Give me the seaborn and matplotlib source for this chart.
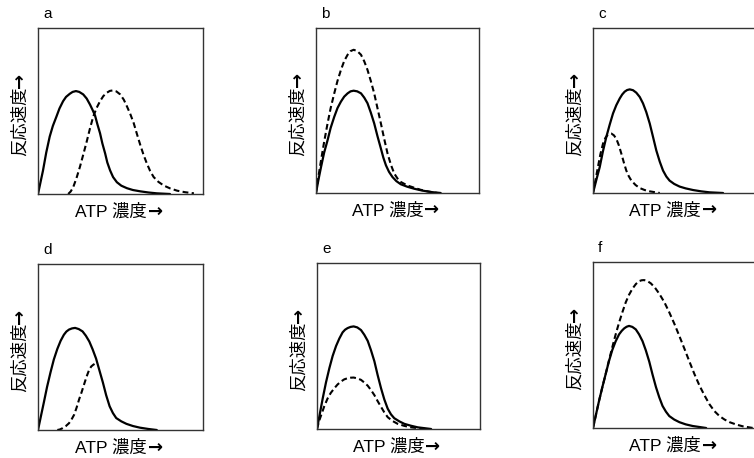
import matplotlib
matplotlib.use("Agg")
import matplotlib.pyplot as plt
import seaborn as sns
import pandas as pd

sns.set_theme(style="white")
plt.rcParams['font.family'] = ['Liberation Sans', 'Noto Sans CJK JP', 'DejaVu Sans']

# panel letters and axis labels
PANELS = ['a', 'b', 'c', 'd', 'e', 'f']
Y_TEXT = '反応速度'
X_TEXT = 'ATP 濃度'
ARROW = '→'

# curves (x, y in % of the panel box)
A_SOLID_X = [0, 1.5, 3, 5, 7.1, 9, 11.2, 13, 15.2, 17, 19.3, 21, 23, 25, 27.4, 29.5, 31.5, 33, 34.6, 36,
             37.6, 39, 40.7, 42, 43.7, 45.5, 47.8, 50.5, 53.9, 57.5, 62, 67, 72, 80]
A_SOLID_Y = [0, 7, 14, 25, 34.6, 41, 46.7, 51.5, 55.9, 58.5, 60.4, 61.5, 62, 61.5, 60, 57.5, 53.9, 50.8, 47.2, 42,
             36.6, 30.5, 24.4, 19, 14.2, 10.2, 7.1, 5, 3.5, 2.4, 1.6, 0.9, 0.4, 0]
A_DASH_X = [18.3, 19.8, 21.3, 23.3, 25.4, 27.5, 29.5, 31.5, 33.5, 35.5, 37.6, 39.6, 41.7, 43.5, 45.3, 47.5, 49.8,
            52, 53.9, 56, 58, 60, 62, 64, 66, 68, 70.1, 73, 76.2, 80, 84.3, 89, 94.5]
A_DASH_Y = [0, 1.5, 4, 9.5, 16.3, 24, 31.5, 39.5, 46.7, 51.8, 55.9, 59, 61, 62.1, 62.4, 61.8, 60,
            56.8, 52.8, 48, 42.7, 36, 29.5, 23.5, 18.3, 13.8, 10.2, 7.3, 5.1, 3.4, 2, 1.1, 0.4]

B_SOLID_X = [0, 1.5, 3.1, 5, 7.1, 9, 11.2, 13.2, 15.3, 17.3, 19.4, 21.2, 23.1, 25.3, 27.6, 29.6, 31.6, 33.6,
             35.7, 37.7, 39.8, 41.3, 42.9, 44.8, 46.9, 49.3, 52, 56, 60.2, 65, 70.4, 76.5]
B_SOLID_Y = [0, 8, 15.8, 24.5, 32, 39.5, 46.2, 51.5, 55.4, 58.4, 60.4, 61.6, 62, 61.6, 60.4, 57.8, 54.4, 48.8,
             42.2, 34.5, 27, 21.5, 16.8, 12.8, 9.7, 7.2, 5.3, 3.8, 2.6, 1.5, 0.6, 0]
B_DASH_X = [0, 1.5, 3.1, 5, 7.1, 9, 11.2, 13.2, 15.3, 17.3, 19.4, 21.2, 23.1, 25.3, 27.6, 29.6, 31.6, 33.6,
            35.7, 37.7, 39.8, 41.8, 43.9, 46, 48, 50, 52, 56, 60.2, 64, 68.4, 74.5]
B_DASH_Y = [0, 10, 19.9, 31, 42.2, 51.5, 60.4, 68, 74.6, 80, 83.8, 86, 86.8, 86, 83.8, 79.8, 74.6, 68,
            60.4, 51.5, 42.2, 33, 23.9, 17, 11.8, 8.8, 6.7, 4.6, 3.2, 2, 1, 0]

C_SOLID_X = [0, 2, 4.1, 6, 8.1, 10.2, 12.2, 14.2, 16.3, 17.8, 19.3, 20.8, 22.4, 24.4, 26.4, 28.5, 30.5, 32.5,
             34.6, 36.6, 38.6, 40.7, 42.7, 44.7, 46.7, 49.5, 52.8, 56.5, 61, 66, 71.1, 79.3]
C_SOLID_Y = [0, 7.8, 15.7, 25, 33.9, 41.5, 48.2, 53.2, 57.3, 59.7, 61.4, 62.4, 62.8, 62.3, 60.8, 58.2, 54.3, 49,
             42.1, 34, 25.8, 19, 13.6, 10, 7.5, 5.5, 3.9, 2.8, 1.8, 1, 0.4, 0]
C_DASH_X = [0, 1.5, 3, 4.5, 6.1, 7.6, 9.1, 10.2, 11.2, 12.7, 14.2, 15.8, 17.3, 18.8, 20.3, 21.8, 23.4,
            26, 28.5, 31.5, 34.6, 40.7]
C_DASH_Y = [0, 7.8, 15.7, 23.5, 29.9, 33.5, 35.4, 35.9, 36, 35, 32.9, 28.8, 23.8, 18.5, 13.6, 10.2, 7.5,
            4.8, 3, 1.8, 1, 0]

D_SOLID_X = [0, 1.7, 3.5, 5.5, 7.6, 9.6, 11.7, 13.7, 15.7, 17.2, 18.8, 20.6, 22.5, 24.7, 27, 29, 31.1, 33.1,
             35.2, 37.2, 39.3, 41.3, 43.4, 45.4, 47.4, 50.5, 53.6, 57.5, 61.8, 67, 72]
D_SOLID_Y = [0, 8, 16.4, 26, 34.8, 42.5, 48.8, 53.7, 57.4, 59.3, 60.5, 61.2, 61.5, 60.8, 59.4, 56.8, 53.3, 48.6,
             43, 36, 28.7, 21, 14.3, 10.2, 7.2, 5.2, 3.7, 2.4, 1.4, 0.6, 0]
D_DASH_X = [11.7, 13.2, 14.7, 16.8, 18.8, 20.3, 21.9, 23.4, 24.9, 26.5, 28, 29.5, 31.1, 32.3, 33.5, 34.6]
D_DASH_Y = [0, 0.3, 1, 2.3, 4.1, 6.3, 9.2, 13.5, 18.4, 23, 27.7, 32.3, 36.5, 38.3, 39.3, 40]

E_SOLID_X = [0, 1.7, 3.5, 5.5, 7.6, 9.6, 11.7, 13.7, 15.7, 17.2, 18.8, 20.6, 22.5, 24.7, 27, 29, 31.1, 33.1,
             35.2, 37.2, 39.3, 41.3, 43.4, 45.4, 47.4, 50.5, 53.6, 57.5, 61.8, 70]
E_SOLID_Y = [0, 9, 18.4, 28, 36.7, 44, 50, 54.5, 58.2, 59.8, 60.8, 61.5, 61.8, 61.2, 59.6, 56.8, 53.1, 47.5,
             40.8, 32.5, 24.5, 17.8, 12.2, 8.8, 6.5, 4.6, 3.1, 2, 1, 0]
E_DASH_X = [0, 1.2, 2.5, 4.5, 6.5, 8.5, 10.6, 12.6, 14.7, 16.7, 18.8, 20.6, 22.5, 24.7, 27, 29, 31.1, 33.1,
            35.2, 37.2, 39.3, 41.3, 43.4, 46.4, 49.5, 53.5, 57.7, 65.8]
E_DASH_Y = [0, 4.5, 8.2, 13.8, 18.4, 21.8, 24.5, 26.8, 28.6, 29.9, 30.6, 30.9, 31, 30.5, 29.6, 28, 26.1, 23.5,
            20.4, 16.8, 13.3, 10, 7.1, 4.8, 3.1, 1.9, 1, 0]

F_SOLID_X = [0, 1.8, 3.7, 5.7, 7.8, 9.8, 11.8, 13.8, 15.9, 17.5, 19, 20.5, 22, 24, 26.1, 28.1, 30.2, 32.2,
             34.3, 36.3, 38.4, 40.4, 42.4, 44.5, 46.5, 49.5, 52.7, 56.5, 60.8, 69]
F_SOLID_Y = [0, 8, 16.4, 24.6, 32.8, 40.5, 47.1, 52.2, 56.4, 58.5, 60, 61, 61.5, 60.9, 59.4, 56.4, 52.3, 46.8,
             40, 32.2, 24.6, 18.5, 13.3, 9.8, 7.2, 5.1, 3.5, 2.2, 1.2, 0]
F_DASH_X = [0, 1.8, 3.7, 5.7, 7.8, 9.8, 11.8, 13.8, 15.9, 18, 20, 22, 24.1, 26.2, 28.2, 29.7, 31.2, 33.2,
            35.3, 37.8, 40.4, 43.5, 46.5, 49.6, 52.7, 55.8, 58.8, 61.8, 64.9, 68, 71, 74, 77.1, 80.2,
            83.3, 87.3, 91.4, 97.6]
F_DASH_Y = [0, 8, 16.4, 24.6, 32.8, 41, 48.8, 56.3, 63.5, 70, 75.8, 80.3, 84, 86.8, 88.5, 89, 89.1, 88.5,
            87.1, 84.5, 80.9, 75.8, 69.7, 62.8, 55.3, 47.6, 40, 32.6, 25.6, 19.6, 14.3, 10.2, 7.2, 5.1,
            3.5, 2.1, 1, 0]

CURVES = {
    'a': (A_SOLID_X, A_SOLID_Y, A_DASH_X, A_DASH_Y),
    'b': (B_SOLID_X, B_SOLID_Y, B_DASH_X, B_DASH_Y),
    'c': (C_SOLID_X, C_SOLID_Y, C_DASH_X, C_DASH_Y),
    'd': (D_SOLID_X, D_SOLID_Y, D_DASH_X, D_DASH_Y),
    'e': (E_SOLID_X, E_SOLID_Y, E_DASH_X, E_DASH_Y),
    'f': (F_SOLID_X, F_SOLID_Y, F_DASH_X, F_DASH_Y),
}

W, H = 754, 458
# panel boxes in pixels: left, top, right, bottom
BOXES = {
    'a': (38, 28, 203, 194),
    'b': (316, 28, 479, 193),
    'c': (593, 28, 757, 193),
    'd': (38, 264, 203, 430),
    'e': (317, 263, 480, 429),
    'f': (593, 262, 757, 428),
}

fig = plt.figure(figsize=(W / 100, H / 100), dpi=100)
fig.patch.set_facecolor('white')

for name in PANELS:
    l, t, r, b = BOXES[name]
    ax = fig.add_axes([l / W, 1 - b / H, (r - l) / W, (b - t) / H])
    sx, sy, dx, dy = CURVES[name]
    solid = pd.DataFrame({'x': sx, 'y': sy})
    dashed = pd.DataFrame({'x': dx, 'y': dy})
    sns.lineplot(data=solid, x='x', y='y', ax=ax, color='black', lw=1.6,
                 sort=False, estimator=None)
    sns.lineplot(data=dashed, x='x', y='y', ax=ax, color='black', lw=1.5,
                 sort=False, estimator=None, linestyle=(0, (2.8, 1.6)))
    ax.set_xlim(0, 100)
    ax.set_ylim(0, 100)
    ax.set_xticks([])
    ax.set_yticks([])
    ax.set_xlabel('')
    ax.set_ylabel('')
    for sp in ax.spines.values():
        sp.set_color('#333333')
        sp.set_linewidth(1.0)

    ax.text(0.03, 1.085, name, transform=ax.transAxes, ha='left', va='center',
            fontsize=11, color='black')

    # y label: text then arrow pointing up
    ax.text(-0.11, 0.645, Y_TEXT, transform=ax.transAxes, rotation=90,
            ha='center', va='top', fontsize=12.5, color='black',
            family=['Noto Sans CJK JP'])
    ax.text(-0.11, 0.64, ARROW, transform=ax.transAxes, rotation=90,
            ha='center', va='bottom', fontsize=13, color='black',
            family=['DejaVu Sans'], fontweight='bold')

    # x label: text then arrow pointing right
    ax.text(0.66, -0.105, X_TEXT, transform=ax.transAxes, ha='right',
            va='center', fontsize=12.5, color='black')
    ax.text(0.665, -0.105, ARROW, transform=ax.transAxes, ha='left',
            va='center', fontsize=13, color='black',
            family=['DejaVu Sans'], fontweight='bold')

fig.savefig('out.png', dpi=100, facecolor='white')
